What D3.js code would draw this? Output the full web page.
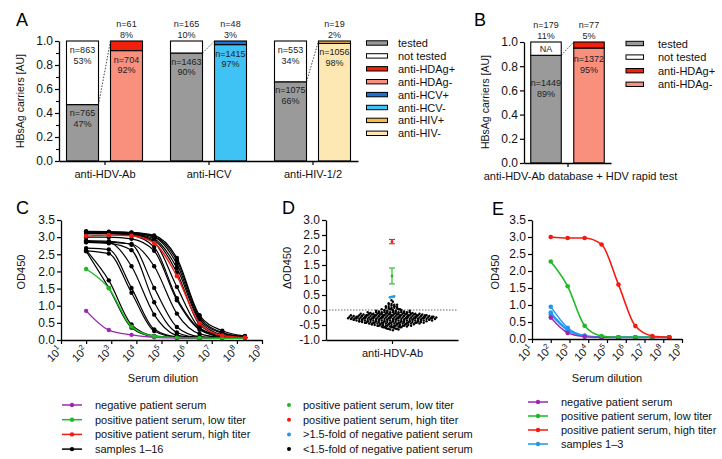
<!DOCTYPE html>
<html><head><meta charset="utf-8">
<script src="https://cdn.jsdelivr.net/npm/d3@7"></script>
<style>body{margin:0;background:#fff}svg{display:block}</style>
</head><body><svg id="fig" width="722" height="459"></svg>
<script>
// ---------------- DATA ----------------
// Panel A
const groupsA = ["anti-HDV-Ab", "anti-HCV", "anti-HIV-1/2"];
const testedN = [765, 1463, 1075];
const testedPct = [47, 90, 66];
const notTestedN = [863, 165, 553];
const notTestedPct = [53, 10, 34];
const negN = [704, 1415, 1056];
const negPct = [92, 97, 98];
const posN = [61, 48, 19];
const posPct = [8, 3, 2];
const legendA = ["tested", "not tested", "anti-HDAg+", "anti-HDAg-", "anti-HCV+", "anti-HCV-", "anti-HIV+", "anti-HIV-"];
// Panel B
const groupsB = ["anti-HDV-Ab database + HDV rapid test"];
const testedNB = [1449], testedPctB = [89];
const notTestedNB = [179], notTestedPctB = [11];
const negNB = [1372], negPctB = [95];
const posNB = [77], posPctB = [5];
const legendB = ["tested", "not tested", "anti-HDAg+", "anti-HDAg-"];
const barTicks = [0, 0.2, 0.4, 0.6, 0.8, 1.0];
// Panel C
const dilutions = [100, 800, 6400, 51200, 409600, 3276800, 26214400, 209715200];
const negSerumC = [0.85, 0.29, 0.15, 0.08, 0.06, 0.05, 0.05, 0.05];
const lowTiterC = [2.07, 1.51, 0.39, 0.11, 0.07, 0.06, 0.05, 0.05];
const highTiterC = [3.03, 3.06, 3.04, 2.83, 1.87, 0.49, 0.13, 0.07];
const samplesC = [
  [2.62, 1.74, 0.45, 0.12, 0.07, 0.06, 0.06, 0.06],
  [2.59, 1.52, 0.36, 0.10, 0.07, 0.06, 0.06, 0.06],
  [2.68, 2.64, 1.52, 0.31, 0.09, 0.06, 0.06, 0.06],
  [2.60, 2.52, 1.38, 0.26, 0.08, 0.06, 0.06, 0.06],
  [2.88, 2.85, 2.15, 0.74, 0.14, 0.07, 0.06, 0.06],
  [2.85, 2.82, 2.62, 1.10, 0.22, 0.08, 0.07, 0.06],
  [2.90, 2.88, 2.78, 1.52, 0.38, 0.10, 0.07, 0.06],
  [2.86, 2.85, 2.80, 2.15, 0.77, 0.18, 0.08, 0.07],
  [3.00, 3.00, 2.95, 2.60, 1.16, 0.30, 0.10, 0.07],
  [3.10, 3.10, 3.05, 2.71, 1.22, 0.33, 0.10, 0.07],
  [3.12, 3.12, 3.08, 2.85, 1.55, 0.36, 0.12, 0.07],
  [3.10, 3.10, 3.08, 2.90, 1.97, 0.45, 0.13, 0.08],
  [3.13, 3.13, 3.10, 2.95, 2.10, 0.55, 0.15, 0.08],
  [3.15, 3.14, 3.12, 3.00, 2.22, 0.60, 0.20, 0.09],
  [3.16, 3.15, 3.13, 3.02, 2.32, 0.66, 0.22, 0.10],
  [3.17, 3.16, 3.14, 3.05, 2.39, 0.72, 0.27, 0.12]
];
const odTicks = [0, 0.5, 1.0, 1.5, 2.0, 2.5, 3.0, 3.5];
const decades = [1, 2, 3, 4, 5, 6, 7, 8, 9];
// Panel D
const dBinValues = [0.30, 0.25, 0.20, 0.15, 0.10, 0.05, 0.00, -0.05, -0.10, -0.15, -0.20, -0.25, -0.30, -0.35, -0.40, -0.45, -0.50, -0.55, -0.60, -0.65];
const dBinCounts = [1, 1, 3, 4, 5, 6, 8, 13, 18, 24, 30, 32, 32, 29, 24, 20, 15, 11, 7, 5];
const dPosMeans = [1.13, 2.28];
const dPosLow = [0.87, 2.21];
const dPosHigh = [1.40, 2.35];
const dBlue = [0.42, 0.44, 0.45];
const dTicks = [-1.0, -0.5, 0, 0.5, 1.0, 1.5, 2.0, 2.5, 3.0];
const groupD = ["anti-HDV-Ab"];
// Panel E
const negSerumE = [0.63, 0.18, 0.07, 0.05, 0.04, 0.04, 0.04, 0.04];
const lowTiterE = [2.28, 1.55, 0.39, 0.09, 0.05, 0.05, 0.05, 0.05];
const highTiterE = [3.00, 2.97, 2.97, 2.78, 1.60, 0.38, 0.09, 0.05];
const samplesE = [
  [0.95, 0.33, 0.10, 0.06, 0.05, 0.05, 0.05, 0.05],
  [0.78, 0.28, 0.09, 0.05, 0.05, 0.05, 0.05, 0.05],
  [0.72, 0.25, 0.08, 0.05, 0.05, 0.05, 0.05, 0.05]
];
const legendC = ["negative patient serum", "positive patient serum, low titer", "positive patient serum, high titer", "samples 1\u201316"];
const legendD = ["positive patient serum, low titer", "positive patient serum, high titer", ">1.5-fold of negative patient serum", "<1.5-fold of negative patient serum"];
const legendE = ["negative patient serum", "positive patient serum, low titer", "positive patient serum, high titer", "samples 1\u20133"];

// ---------------- STYLE ----------------
const F = '"Liberation Sans", Arial, Helvetica, sans-serif';
const col = {
  gray: "#9a9a9a", white: "#ffffff",
  hdvPos: "#f0200c", hdvNeg: "#f98f7d",
  hcvPos: "#1a72d6", hcvNeg: "#3fc2f4",
  hivPos: "#f8bb47", hivNeg: "#fde8b4",
  purple: "#9b27b3", green: "#1dba22", red: "#f51a10", blue: "#2196f0", black: "#000"
};
const legendAColors = [col.gray, col.white, col.hdvPos, col.hdvNeg, col.hcvPos, col.hcvNeg, col.hivPos, col.hivNeg];
const posColors = [col.hdvPos, col.hcvPos, col.hivPos];
const negColors = [col.hdvNeg, col.hcvNeg, col.hivNeg];

const svg = d3.select("#fig");
svg.append("rect").attr("width", 722).attr("height", 459).attr("fill", "#fff");

function styleAxis(g, fs) {
  g.attr("font-family", F).attr("font-size", fs || 12);
  g.select("path.domain").attr("stroke", "#000").attr("stroke-width", 1.3);
  g.selectAll(".tick line").attr("stroke", "#000").attr("stroke-width", 1.2);
  g.selectAll(".tick text").attr("fill", "#111");
}
function txt(x, y, s, o) {
  o = o || {};
  const t = svg.append("text").attr("x", x).attr("y", y).text(s)
    .attr("font-family", F).attr("font-size", o.fs || 11).attr("fill", o.fill || "#111")
    .attr("text-anchor", o.anchor || "start");
  if (o.rot) t.attr("transform", `rotate(${o.rot},${x},${y})`);
  return t;
}
function panelLabel(x, y, s) { txt(x, y, s, { fs: 18, fill: "#000" }); }

// ---------------- PANEL A ----------------
const yA = d3.scaleLinear([0, 1], [161, 41]);
const xA = d3.scalePoint(groupsA, [59, 358]).padding(0.4375);
function stackedPair(y, cx, off, bw, d, colorsPair, special) {
  const x0 = cx - off - bw / 2, x1 = cx + off - bw / 2;
  const t = d.tp / 100, n = d.np / 100;
  svg.append("rect").attr("x", x0).attr("y", y(t)).attr("width", bw).attr("height", y(0) - y(t))
    .attr("fill", col.gray).attr("stroke", "#000").attr("stroke-width", 1.1);
  svg.append("rect").attr("x", x0).attr("y", y(1)).attr("width", bw).attr("height", y(t) - y(1))
    .attr("fill", col.white).attr("stroke", "#000").attr("stroke-width", 1.1);
  svg.append("rect").attr("x", x1).attr("y", y(n)).attr("width", bw).attr("height", y(0) - y(n))
    .attr("fill", colorsPair[1]).attr("stroke", "#000").attr("stroke-width", 1.1);
  svg.append("rect").attr("x", x1).attr("y", y(1)).attr("width", bw).attr("height", y(n) - y(1))
    .attr("fill", colorsPair[0]).attr("stroke", "#000").attr("stroke-width", 1.1);
  svg.append("line").attr("x1", x0 + bw).attr("y1", y(t)).attr("x2", x1).attr("y2", y(1))
    .attr("stroke", "#333").attr("stroke-width", 0.9).attr("stroke-dasharray", "1.5,1.5");
  const lab = (x, yy, a, b) => {
    txt(x, yy, a, { fs: 9, anchor: "middle", fill: "#222" });
    txt(x, yy + 10.5, b, { fs: 9, anchor: "middle", fill: "#222" });
  };
  if (d.utp >= 20) lab(x0 + bw / 2, y(1) + 12, "n=" + d.un, d.utp + "%");
  else {
    lab(x0 + bw / 2, y(1) - 14, "n=" + d.un, d.utp + "%");
    if (special) txt(x0 + bw / 2, y(1) + 9.5, "NA", { fs: 9, anchor: "middle", fill: "#222" });
  }
  lab(x0 + bw / 2, y(t) + (special ? 31 : 11.5), "n=" + d.tn, d.tp + "%");
  lab(x1 + bw / 2, y(1) - 14, "n=" + d.pn, d.pp + "%");
  lab(x1 + bw / 2, y(n) + (special ? 14 : 12), "n=" + d.nn, d.np + "%");
}
groupsA.forEach((g, i) => {
  stackedPair(yA, xA(g), 22, 32, {
    tn: testedN[i], tp: testedPct[i], un: notTestedN[i], utp: notTestedPct[i],
    nn: negN[i], np: negPct[i], pn: posN[i], pp: posPct[i]
  }, [posColors[i], negColors[i]], false);
});
svg.append("g").attr("transform", "translate(59,0)")
  .call(d3.axisLeft(yA).tickValues(d3.range(0.1, 1, 0.2)).tickSize(3).tickFormat(""))
  .call(g => { g.select("path.domain").remove(); g.selectAll("line").attr("stroke", "#000").attr("stroke-width", 1.1); });
svg.append("g").attr("transform", "translate(59,0)")
  .call(d3.axisLeft(yA).tickValues(barTicks).tickFormat(d3.format(".1f")).tickSize(4).tickSizeOuter(0).tickPadding(2))
  .call(g => styleAxis(g, 12));
svg.append("g").attr("transform", "translate(0,161)")
  .call(d3.axisBottom(xA).tickSize(4).tickSizeOuter(0).tickPadding(5))
  .call(g => styleAxis(g, 11));
txt(24, 101, "HBsAg carriers [AU]", { fs: 10.5, anchor: "middle", rot: -90 });
legendA.forEach((s, i) => {
  const yy = 43 + i * 12.9;
  svg.append("rect").attr("x", 366.5).attr("y", yy - 2.2).attr("width", 21).attr("height", 4.4)
    .attr("fill", legendAColors[i]).attr("stroke", "#000").attr("stroke-width", 1);
  txt(398, yy + 4, s, { fs: 11 });
});
panelLabel(16, 26, "A");

// ---------------- PANEL B ----------------
const yB = d3.scaleLinear([0, 1], [163, 42]);
const xB = d3.scalePoint(groupsB, [524, 611]).padding(0.5);
stackedPair(yB, xB(groupsB[0]), 21.5, 30.5, {
  tn: testedNB[0], tp: testedPctB[0], un: notTestedNB[0], utp: notTestedPctB[0],
  nn: negNB[0], np: negPctB[0], pn: posNB[0], pp: posPctB[0]
}, [col.hdvPos, col.hdvNeg], true);
svg.append("g").attr("transform", "translate(524,0)")
  .call(d3.axisLeft(yB).tickValues(barTicks).tickFormat(d3.format(".1f")).tickSize(4).tickSizeOuter(0).tickPadding(2))
  .call(g => styleAxis(g, 12));
svg.append("g").attr("transform", "translate(0,163)")
  .call(d3.axisBottom(xB).tickSize(4).tickSizeOuter(0).tickFormat(""))
  .call(g => styleAxis(g, 11));
txt(xB(groupsB[0]) + 13, 180, groupsB[0], { fs: 11, anchor: "middle" });
txt(489, 102, "HBsAg carriers [AU]", { fs: 10.5, anchor: "middle", rot: -90 });
legendB.forEach((s, i) => {
  const yy = 43.5 + i * 13.6;
  svg.append("rect").attr("x", 626).attr("y", yy - 2.2).attr("width", 17.5).attr("height", 4.4)
    .attr("fill", legendAColors[i]).attr("stroke", "#000").attr("stroke-width", 1);
  txt(658, yy + 4, s, { fs: 11 });
});
panelLabel(474, 26, "B");

// ---------------- helpers for dilution panels ----------------
function logAxis(x, y0) {
  const g = svg.append("g").attr("transform", `translate(0,${y0})`)
    .call(d3.axisBottom(x).tickValues(decades.map(d => Math.pow(10, d))).tickSize(4).tickSizeOuter(0).tickFormat(""));
  styleAxis(g, 11);
  decades.forEach(d => {
    const px = x(Math.pow(10, d)) + 2, py = y0 + 11;
    const t = svg.append("text").attr("x", px).attr("y", py).attr("text-anchor", "end")
      .attr("font-family", F).attr("font-size", 11).attr("fill", "#111")
      .attr("transform", `rotate(-45,${px},${py})`);
    t.append("tspan").text("10");
    t.append("tspan").attr("font-size", 7.5).attr("dy", -5).text(d);
  });
}
function curve(x, y, vals, color, r, w) {
  const pts = dilutions.map((d, i) => [x(d), y(vals[i])]);
  svg.append("path").attr("d", d3.line().curve(d3.curveMonotoneX)(pts))
    .attr("fill", "none").attr("stroke", color).attr("stroke-width", w);
  pts.forEach(p => svg.append("circle").attr("cx", p[0]).attr("cy", p[1]).attr("r", r).attr("fill", color));
}
function lineLegend(x0, x1, tx, y0, dy, labels, colors) {
  labels.forEach((s, i) => {
    const yy = y0 + i * dy;
    svg.append("line").attr("x1", x0).attr("x2", x1).attr("y1", yy).attr("y2", yy)
      .attr("stroke", colors[i]).attr("stroke-width", 1.5);
    svg.append("circle").attr("cx", (x0 + x1) / 2).attr("cy", yy).attr("r", 2.2).attr("fill", colors[i]);
    txt(tx, yy + 4, s, { fs: 11 });
  });
}

// ---------------- PANEL C ----------------
const xC = d3.scaleLog([10, 1e9], [61, 262]);
const yC = d3.scaleLinear([0, 3.5], [340, 220]);
samplesC.forEach(s => curve(xC, yC, s, col.black, 2.2, 1.2));
curve(xC, yC, negSerumC, col.purple, 2.2, 1.4);
curve(xC, yC, lowTiterC, col.green, 2.2, 1.4);
curve(xC, yC, highTiterC, col.red, 2.3, 1.4);
svg.append("g").attr("transform", "translate(61,0)")
  .call(d3.axisLeft(yC).tickValues(odTicks).tickFormat(d3.format(".1f")).tickSize(4).tickSizeOuter(0).tickPadding(2))
  .call(g => styleAxis(g, 12));
logAxis(xC, 340);
txt(163, 382, "Serum dilution", { fs: 11, anchor: "middle" });
txt(25, 272, "OD450", { fs: 11, anchor: "middle", rot: -90 });
lineLegend(62, 82, 95, 405, 14.7, legendC, [col.purple, col.green, col.red, col.black]);
panelLabel(16, 214, "C");

// ---------------- PANEL D ----------------
const yD = d3.scaleLinear([-1, 3], [340, 220]);
const xD = d3.scalePoint(groupD, [326, 458]).padding(0.5);
const cxD = xD(groupD[0]);
svg.append("line").attr("x1", 326).attr("x2", 458).attr("y1", yD(0)).attr("y2", yD(0))
  .attr("stroke", "#555").attr("stroke-width", 0.9).attr("stroke-dasharray", "1.5,1.5");
dBinValues.forEach((v, k) => {
  const n = dBinCounts[k];
  const sp = 2.8;
  for (let i = 0; i < n; i++) {
    const px = cxD + (i - (n - 1) / 2) * sp + (k % 2 ? 0.9 : -0.5);
    svg.append("circle").attr("cx", px).attr("cy", yD(v) + ((i % 3) - 1) * 0.7).attr("r", 1.2).attr("fill", "#000");
  }
});
dBlue.forEach((v, i) => svg.append("circle").attr("cx", cxD - 2 + i * 2).attr("cy", yD(v)).attr("r", 1.4).attr("fill", col.blue));
[col.green, col.red].forEach((c, i) => {
  const g = svg.append("g").attr("stroke", c).attr("stroke-width", 1.1);
  g.append("line").attr("x1", cxD).attr("x2", cxD).attr("y1", yD(dPosLow[i])).attr("y2", yD(dPosHigh[i]));
  g.append("line").attr("x1", cxD - 3).attr("x2", cxD + 3).attr("y1", yD(dPosLow[i])).attr("y2", yD(dPosLow[i]));
  g.append("line").attr("x1", cxD - 3).attr("x2", cxD + 3).attr("y1", yD(dPosHigh[i])).attr("y2", yD(dPosHigh[i]));
  svg.append("circle").attr("cx", cxD).attr("cy", yD(dPosMeans[i])).attr("r", 1.4).attr("fill", c);
});
svg.append("g").attr("transform", "translate(326,0)")
  .call(d3.axisLeft(yD).tickValues(dTicks).tickFormat(d => d.toFixed(1)).tickSize(4).tickSizeOuter(0).tickPadding(2))
  .call(g => styleAxis(g, 12));
svg.append("g").attr("transform", "translate(0,340)")
  .call(d3.axisBottom(xD).tickSize(4).tickSizeOuter(0).tickPadding(5))
  .call(g => styleAxis(g, 11));
txt(291, 268, "\u0394OD450", { fs: 11, anchor: "middle", rot: -90 });
legendD.forEach((s, i) => {
  const yy = 405 + i * 14.7;
  svg.append("circle").attr("cx", 289).attr("cy", yy).attr("r", 2).attr("fill", [col.green, col.red, col.blue, col.black][i]);
  txt(303, yy + 4, s, { fs: 11 });
});
panelLabel(282, 214, "D");

// ---------------- PANEL E ----------------
const xE = d3.scaleLog([10, 1e9], [532, 682]);
const yE = d3.scaleLinear([0, 3.5], [339, 220]);
samplesE.forEach(s => curve(xE, yE, s, col.blue, 2.3, 1.4));
curve(xE, yE, negSerumE, col.purple, 2.3, 1.4);
curve(xE, yE, lowTiterE, col.green, 2.3, 1.6);
curve(xE, yE, highTiterE, col.red, 2.3, 1.6);
svg.append("g").attr("transform", "translate(532,0)")
  .call(d3.axisLeft(yE).tickValues(odTicks).tickFormat(d3.format(".1f")).tickSize(4).tickSizeOuter(0).tickPadding(2))
  .call(g => styleAxis(g, 12));
logAxis(xE, 339);
txt(607, 382, "Serum dilution", { fs: 11, anchor: "middle" });
txt(499, 272, "OD450", { fs: 11, anchor: "middle", rot: -90 });
lineLegend(528, 548, 561, 402, 14, legendE, [col.purple, col.green, col.red, col.blue]);
panelLabel(492, 215, "E");
</script>
</body></html>
